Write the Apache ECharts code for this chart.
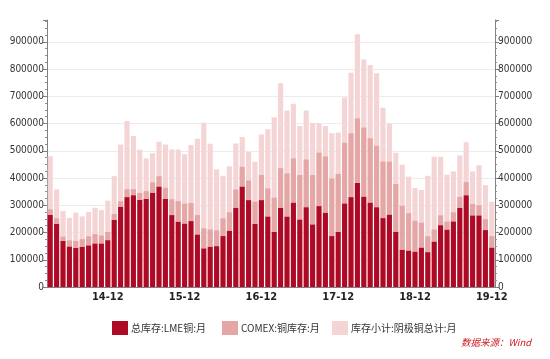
<!DOCTYPE html>
<html>
<head>
<meta charset="utf-8">
<script src="https://cdn.jsdelivr.net/npm/echarts@6/dist/echarts.min.js"></script>
<style>
html,body{margin:0;padding:0;background:#fff;}
#chart{width:550px;height:359px;}
</style>
</head>
<body>
<div id="chart"></div>
<script>
// Months 2014-03 .. 2019-12
var categories = [
 '14-03','14-04','14-05','14-06','14-07','14-08','14-09','14-10','14-11','14-12',
 '15-01','15-02','15-03','15-04','15-05','15-06','15-07','15-08','15-09','15-10','15-11','15-12',
 '16-01','16-02','16-03','16-04','16-05','16-06','16-07','16-08','16-09','16-10','16-11','16-12',
 '17-01','17-02','17-03','17-04','17-05','17-06','17-07','17-08','17-09','17-10','17-11','17-12',
 '18-01','18-02','18-03','18-04','18-05','18-06','18-07','18-08','18-09','18-10','18-11','18-12',
 '19-01','19-02','19-03','19-04','19-05','19-06','19-07','19-08','19-09','19-10','19-11','19-12'
];
// 总库存:LME铜:月 (tonnes)
var lmeStock = [
 265000,232000,169000,149000,144000,148000,153000,160000,160000,172000,
 246000,295000,330000,337000,320000,323000,346000,369000,323000,264000,
 240000,233000,242000,193000,142000,148000,150000,187000,207000,291000,
 369000,319000,232000,319000,259000,202000,291000,259000,310000,248000,
 293000,230000,297000,273000,187000,202000,307000,330000,382000,332000,
 310000,293000,253000,266000,203000,137000,134000,130000,145000,128000,
 167000,227000,211000,241000,291000,337000,263000,263000,209000,145000
];
// COMEX:铜库存:月
var comexStock = [
 20000,20000,16000,22000,25000,28000,33000,34000,29000,30000,
 22000,20000,29000,22000,25000,29000,38000,38000,41000,58000,
 75000,73000,66000,71000,73000,63000,58000,65000,67000,67000,
 72000,72000,81000,92000,103000,126000,145000,158000,162000,163000,
 175000,181000,196000,206000,211000,213000,222000,234000,237000,253000,
 236000,225000,207000,194000,175000,161000,137000,113000,91000,58000,
 44000,36000,29000,33000,40000,48000,41000,37000,40000,42000
];
// 库存小计:阴极铜总计:月
var totalStock = [
 480000,358000,279000,254000,273000,259000,275000,291000,282000,317000,
 407000,523000,609000,554000,504000,472000,491000,533000,523000,505000,
 505000,487000,521000,544000,603000,526000,432000,408000,443000,527000,
 551000,496000,460000,560000,579000,623000,748000,648000,673000,591000,
 648000,602000,600000,591000,564000,567000,696000,786000,928000,835000,
 815000,785000,658000,600000,493000,449000,405000,363000,356000,408000,
 478000,478000,412000,424000,483000,531000,424000,447000,374000,313000
];
var seriesNames = ['总库存:LME铜:月', 'COMEX:铜库存:月', '库存小计:阴极铜总计:月'];
var yTicks = {min: 0, max: 980000, interval: 100000};

var C_DARK = '#AE0A26', C_MID = '#E5A6A6', C_LIGHT = '#F5D4D5';
var FONT = '"DejaVu Sans Condensed","Liberation Sans Narrow",sans-serif';

function yAxisCfg(pos) {
  return {
    type: 'value', position: pos,
    min: yTicks.min, max: yTicks.max, interval: yTicks.interval,
    axisLine: {show: true, lineStyle: {color: '#808080', width: 1}},
    axisTick: {show: true, length: 4, lineStyle: {color: '#808080'}},
    minorTick: {show: true, splitNumber: 4, length: 2, lineStyle: {color: '#909090'}},
    axisLabel: {color: '#333', fontSize: 10, fontFamily: FONT, margin: 3, showMaxLabel: false,
                formatter: function (v) { return String(v); }},
    splitLine: {show: pos === 'left', showMaxLine: false, lineStyle: {color: '#ececec', width: 1}}
  };
}

var chart = echarts.init(document.getElementById('chart'), null, {renderer: 'canvas'});
var legendText = {color: '#333', fontSize: 10, fontFamily: '"Noto Sans CJK SC",sans-serif', padding: [0,0,0,-2]};
chart.setOption({
  animation: false,
  backgroundColor: '#fff',
  grid: {left: 47, right: 55, top: 20, bottom: 72, containLabel: false},
  legend: [
    {data: [seriesNames[0]], left: 107, top: 316, itemWidth: 16, itemHeight: 14, textStyle: legendText, icon: 'rect'},
    {data: [seriesNames[1]], left: 217, top: 316, itemWidth: 16, itemHeight: 14, textStyle: legendText, icon: 'rect'},
    {data: [seriesNames[2]], left: 327, top: 316, itemWidth: 16, itemHeight: 14, textStyle: legendText, icon: 'rect'}
  ],
  graphic: [{
    type: 'text', left: 461, top: 338,
    style: {text: '数据来源：Wind', fill: '#D0191E', fontSize: 9.5, fontStyle: 'italic',
            fontFamily: '"Noto Sans CJK SC",sans-serif'}
  }],
  xAxis: {
    type: 'category', data: categories, boundaryGap: true,
    axisLine: {lineStyle: {color: '#808080'}},
    axisTick: {alignWithLabel: true, length: 4, lineStyle: {color: '#808080'},
               interval: function (i) { return i % 3 === 0; }},
    axisLabel: {color: '#222', fontSize: 11, fontWeight: 'bold', fontFamily: FONT, margin: 5,
                interval: function (i, v) { return v.slice(3) === '12'; }}
  },
  yAxis: [yAxisCfg('left'), yAxisCfg('right')],
  series: [
    {name: seriesNames[0], type: 'bar', stack: 'ex', data: lmeStock, z: 3,
     itemStyle: {color: C_DARK}, barCategoryGap: '20%', barGap: '-100%'},
    {name: seriesNames[1], type: 'bar', stack: 'ex', data: comexStock, z: 3,
     itemStyle: {color: C_MID}, barCategoryGap: '20%', barGap: '-100%'},
    {name: seriesNames[2], type: 'bar', data: totalStock, z: 2,
     itemStyle: {color: C_LIGHT}, barCategoryGap: '20%', barGap: '-100%'}
  ]
});
</script>
</body>
</html>
